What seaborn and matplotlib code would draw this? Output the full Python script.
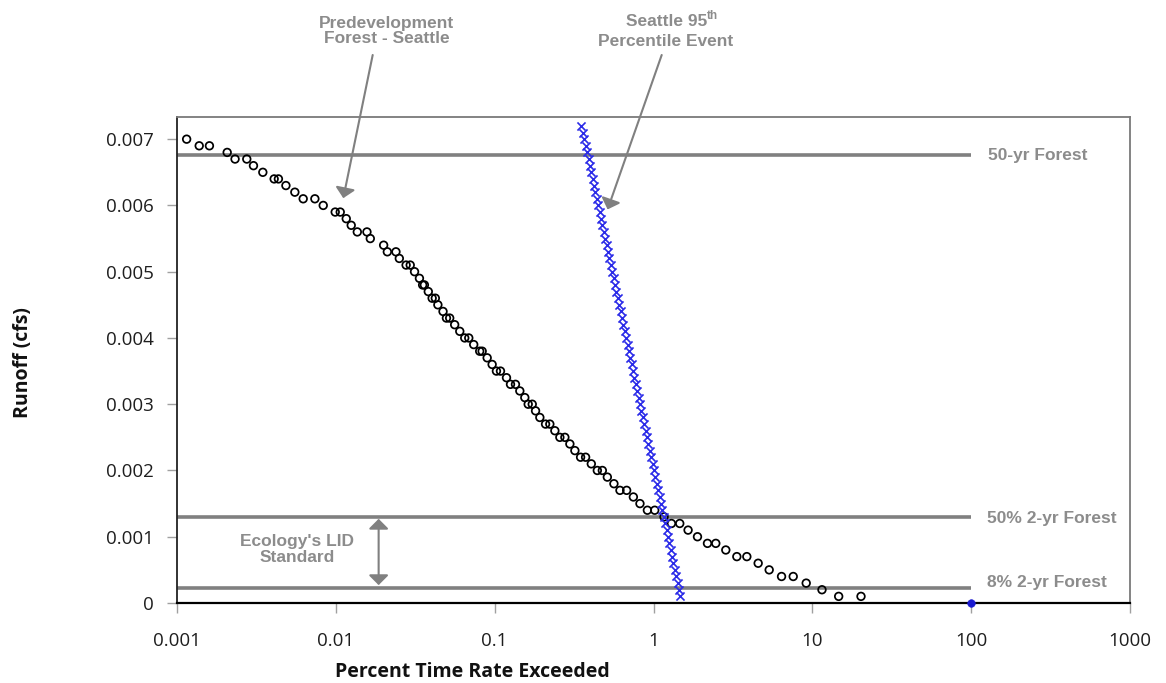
import matplotlib
matplotlib.use('Agg')
import matplotlib.pyplot as plt
import seaborn as sns
import pandas as pd

#DATA

#Predevelopment forest (Seattle) - percent time exceeded vs runoff
forest_runoff = [0.0070, 0.0069, 0.0069, 0.0068, 0.0067, 0.0067, 0.0066, 0.0065, 0.0064, 0.0064,
                 0.0063, 0.0062, 0.0061, 0.0061, 0.0060, 0.0059, 0.0059, 0.0058, 0.0057, 0.0056,
                 0.0056, 0.0055, 0.0054, 0.0053, 0.0053, 0.0052, 0.0051, 0.0051, 0.0050, 0.0049,
                 0.0048, 0.0048, 0.0047, 0.0046, 0.0046, 0.0045, 0.0044, 0.0043, 0.0043, 0.0042,
                 0.0041, 0.0040, 0.0040, 0.0039, 0.0038, 0.0038, 0.0037, 0.0036, 0.0035, 0.0035,
                 0.0034, 0.0033, 0.0033, 0.0032, 0.0031, 0.0030, 0.0030, 0.0029, 0.0028, 0.0027,
                 0.0027, 0.0026, 0.0025, 0.0025, 0.0024, 0.0023, 0.0022, 0.0022, 0.0021, 0.0020,
                 0.0020, 0.0019, 0.0018, 0.0017, 0.0017, 0.0016, 0.0015, 0.0014, 0.0014, 0.0013,
                 0.0012, 0.0012, 0.0011, 0.0010, 0.0009, 0.0009, 0.0008, 0.0007, 0.0007, 0.0006,
                 0.0005, 0.0004, 0.0004, 0.0003, 0.0002, 0.0001, 0.0001]
forest_pct = [0.00115, 0.00138, 0.0016, 0.00207, 0.00232, 0.00275, 0.00303, 0.00347, 0.00409, 0.00435,
              0.00485, 0.00552, 0.00623, 0.00738, 0.00833, 0.00991, 0.01066, 0.01163, 0.0125, 0.01365,
              0.0157, 0.01648, 0.0200, 0.0211, 0.0239, 0.0251, 0.0277, 0.0294, 0.0313, 0.0336,
              0.0352, 0.0361, 0.0382, 0.0404, 0.0423, 0.0439, 0.0473, 0.0497, 0.0521, 0.056,
              0.0603, 0.0648, 0.0687, 0.0738, 0.0805, 0.0834, 0.0897, 0.0964, 0.1026, 0.1088,
              0.1187, 0.1258, 0.1352, 0.144, 0.1548, 0.1626, 0.1724, 0.1809, 0.1925, 0.2091,
              0.2225, 0.2393, 0.2573, 0.2767, 0.2975, 0.3199, 0.3475, 0.3737, 0.4059, 0.4429,
              0.4763, 0.5121, 0.5635, 0.615, 0.6776, 0.7468, 0.8218, 0.9153, 1.018, 1.165,
              1.297, 1.463, 1.651, 1.892, 2.187, 2.467, 2.852, 3.347, 3.869, 4.56,
              5.35, 6.40, 7.58, 9.15, 11.5, 14.65, 20.25]

#Seattle 95th percentile event
event_runoff = [0.0072, 0.0071, 0.0070, 0.0069, 0.0068, 0.0067, 0.0066, 0.0065, 0.0064, 0.0063,
                0.0062, 0.0061, 0.0060, 0.0059, 0.0058, 0.0057, 0.0056, 0.0055, 0.0054, 0.0053,
                0.0052, 0.0051, 0.0050, 0.0049, 0.0048, 0.0047, 0.0046, 0.0045, 0.0044, 0.0043,
                0.0042, 0.0041, 0.0040, 0.0039, 0.0038, 0.0037, 0.0036, 0.0035, 0.0034, 0.0033,
                0.0032, 0.0031, 0.0030, 0.0029, 0.0028, 0.0027, 0.0026, 0.0025, 0.0024, 0.0023,
                0.0022, 0.0021, 0.0020, 0.0019, 0.0018, 0.0017, 0.0016, 0.0015, 0.0014, 0.0013,
                0.0012, 0.0011, 0.0010, 0.0009, 0.0008, 0.0007, 0.0006, 0.0005, 0.0004, 0.0003,
                0.0002, 0.0001]
event_pct = [0.352, 0.360, 0.367, 0.374, 0.382, 0.390, 0.398, 0.406, 0.414, 0.423,
             0.431, 0.440, 0.449, 0.458, 0.468, 0.477, 0.487, 0.497, 0.507, 0.517,
             0.528, 0.538, 0.549, 0.561, 0.572, 0.584, 0.596, 0.608, 0.620, 0.633,
             0.646, 0.659, 0.672, 0.686, 0.700, 0.714, 0.729, 0.744, 0.759, 0.775,
             0.791, 0.806, 0.823, 0.840, 0.857, 0.874, 0.892, 0.910, 0.929, 0.948,
             0.967, 0.987, 1.007, 1.028, 1.049, 1.070, 1.092, 1.114, 1.137, 1.160,
             1.184, 1.208, 1.232, 1.257, 1.283, 1.309, 1.336, 1.363, 1.391, 1.419,
             1.448, 1.478]
#the single point at 100 percent
event_end_pct = [100]
event_end_runoff = [0]

#Reference flows
ref_names = ['50-yr Forest', '50% 2-yr Forest', '8% 2-yr Forest']
ref_runoff = [0.00676, 0.0013, 0.00022]

x_ticks = [0.001, 0.01, 0.1, 1, 10, 100, 1000]
x_tick_labels = ['0.001', '0.01', '0.1', '1', '10', '100', '1000']
y_ticks = [0, 0.001, 0.002, 0.003, 0.004, 0.005, 0.006, 0.007]
y_tick_labels = ['0', '0.001', '0.002', '0.003', '0.004', '0.005', '0.006', '0.007']

forest = pd.DataFrame({'Percent': forest_pct, 'Runoff': forest_runoff})
event = pd.DataFrame({'Percent': event_pct, 'Runoff': event_runoff})

#CHART

sns.set_theme(style='white')
plt.rcParams['font.family'] = ['Open Sans', 'DejaVu Sans']

W, H = 1166, 683
fig = plt.figure(figsize=(W / 100, H / 100), dpi=100)
ax = fig.add_axes([177 / W, 1 - 603 / H, (1130 - 177) / W, (603 - 117.3) / H])

grey = '#808080'
text_grey = '#8c8c8c'

#reference lines
ax.hlines(ref_runoff, 0.001, 100, color=grey, lw=2.6, zorder=1)

sns.scatterplot(data=forest, x='Percent', y='Runoff', ax=ax, marker='o', s=30,
                facecolors='none', edgecolors='black', linewidth=1.25, zorder=3)
sns.scatterplot(data=event, x='Percent', y='Runoff', ax=ax, marker='x', s=34,
                color='#2b2be8', linewidth=1.2, zorder=4)
sns.scatterplot(x=event_end_pct, y=event_end_runoff, ax=ax, marker='o', s=30,
                color='#1a1ad0', edgecolor='#1a1ad0', zorder=5, clip_on=False)

ax.set_xscale('log')
ax.set_xlim(0.001, 1000)
ax.set_ylim(0, 0.00733)
ax.set_xticks(x_ticks)
ax.set_xticklabels(x_tick_labels)
ax.xaxis.set_minor_locator(matplotlib.ticker.NullLocator())
ax.set_yticks(y_ticks)
ax.set_yticklabels(y_tick_labels)

ax.tick_params(axis='x', direction='out', length=7, width=1, color='#a0a0a0', pad=14,
               labelsize=13.5, labelcolor='#1e1e1e', bottom=True)
ax.tick_params(axis='y', direction='out', length=7, width=1, color='#a0a0a0', pad=10,
               labelsize=13.5, labelcolor='#1e1e1e', left=True)

for side in ['top', 'right']:
    ax.spines[side].set_color('#7a7a7a')
    ax.spines[side].set_linewidth(1.3)
ax.spines['left'].set_color('#222222')
ax.spines['left'].set_linewidth(1.3)
ax.spines['bottom'].set_color('black')
ax.spines['bottom'].set_linewidth(1.6)

ax.set_xlabel('Percent Time Rate Exceeded', fontsize=14, fontweight='bold', color='#111111')
ax.set_ylabel('Runoff (cfs)', fontsize=14, fontweight='bold', color='#111111')
ax.xaxis.set_label_coords(0.3095, -0.1215)
ax.yaxis.set_label_coords(-0.151, 0.496)

#line labels
label_font = dict(family=['Liberation Sans', 'DejaVu Sans'], fontweight='bold', fontsize=12.5, color=text_grey)
ax.text(128, 0.00676, ref_names[0], va='center', ha='left', **label_font)
ax.text(125, 0.00128, ref_names[1], va='center', ha='left', **label_font)
ax.text(126, 0.00031, ref_names[2], va='center', ha='left', **label_font)

#annotations
arrow = dict(arrowstyle='-|>,head_length=0.3,head_width=0.3', color=grey, lw=1.5,
             mutation_scale=20, shrinkA=0, shrinkB=0)
fig.text(387 / W, 1 - 31 / H, 'Predevelopment\nForest - Seattle', ha='center', va='center',
         linespacing=1.05, **label_font)
ax.annotate('', xy=(0.01114, 0.00611), xycoords='data',
            xytext=(372.7 / W, 1 - 55 / H), textcoords='figure fraction',
            arrowprops=arrow, annotation_clip=False)

fig.text(707 / W, 1 - 21 / H, 'Seattle 95', ha='right', va='center', **label_font)
fig.text(707 / W, 1 - 16 / H, 'th', ha='left', va='center',
         family=['Liberation Sans', 'DejaVu Sans'], fontweight='bold', fontsize=8.5, color=text_grey)
fig.text(665.5 / W, 1 - 41 / H, 'Percentile Event', ha='center', va='center', **label_font)
ax.annotate('', xy=(0.514, 0.00594), xycoords='data',
            xytext=(661.7 / W, 1 - 55 / H), textcoords='figure fraction',
            arrowprops=arrow, annotation_clip=False)

fig.text(296.7 / W, 1 - 549.3 / H, "Ecology's LID\nStandard", ha='center', va='center',
         linespacing=1.05, **label_font)
ax.annotate('', xy=(0.0186, 0.00027), xytext=(0.0186, 0.00127),
            arrowprops=dict(arrowstyle='<|-|>,head_length=0.3,head_width=0.3', color=grey, lw=1.5,
                            mutation_scale=20, shrinkA=0, shrinkB=0))

fig.savefig('out.png', dpi=100)
